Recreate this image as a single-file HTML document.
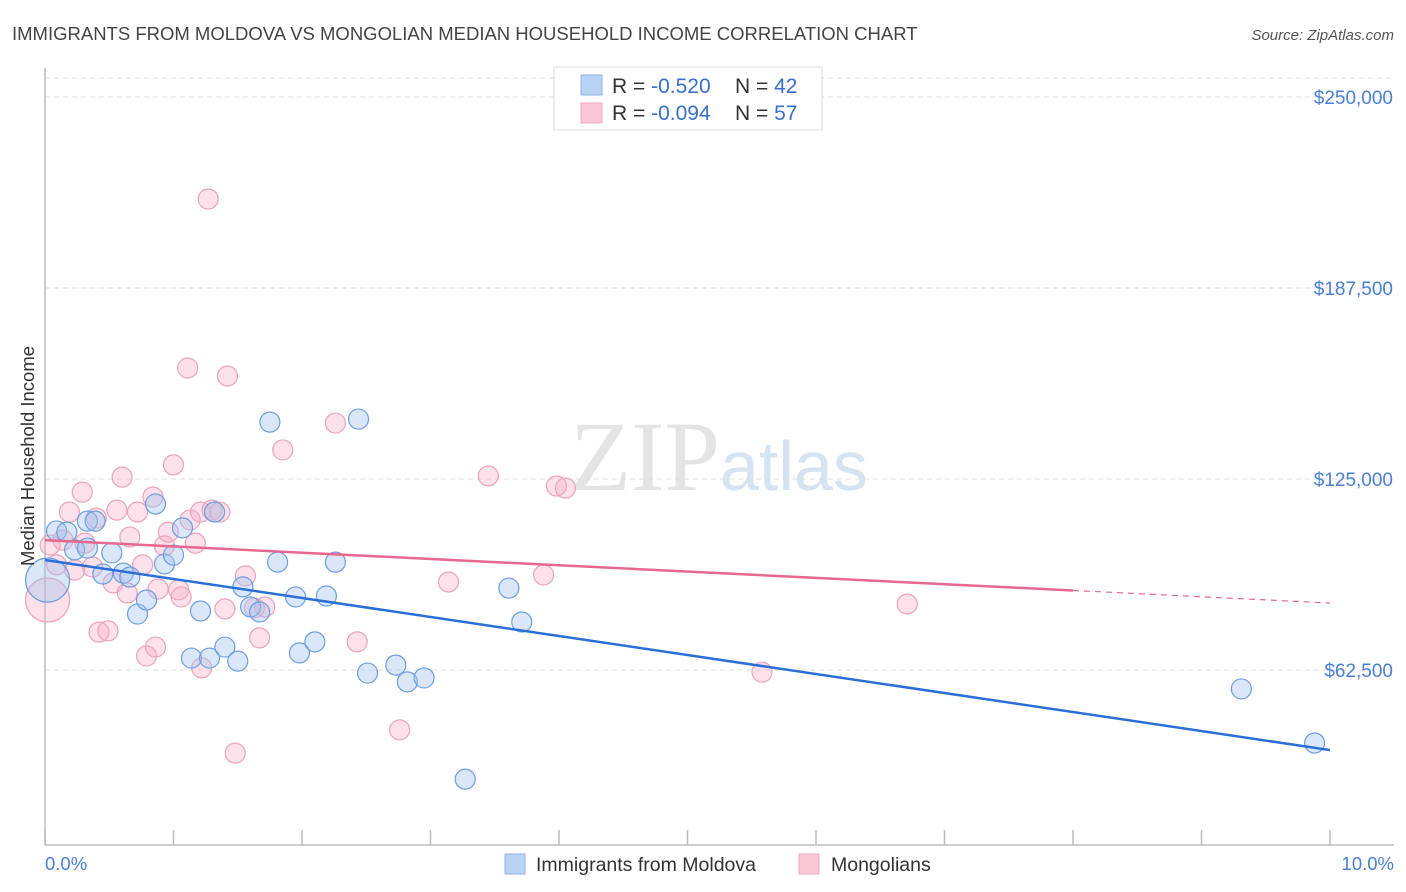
<!DOCTYPE html>
<html><head><meta charset="utf-8"><style>
body{margin:0;background:#fff;font-family:"Liberation Sans",sans-serif;}
svg{display:block}
</style></head><body>
<svg id="chart" width="1406" height="892" xmlns="http://www.w3.org/2000/svg">
<text x="12" y="40" font-size="18.5" fill="#444">IMMIGRANTS FROM MOLDOVA VS MONGOLIAN MEDIAN HOUSEHOLD INCOME CORRELATION CHART</text>
<text x="1394" y="40" font-size="15" fill="#555" font-style="italic" text-anchor="end">Source: ZipAtlas.com</text>
<text x="720" y="490" font-size="100" fill="#e4e4e4" font-family="Liberation Serif,serif" text-anchor="end">ZIP</text>
<text x="720" y="490" font-size="70" fill="#d6e3f3">atlas</text>
<g id="grid"></g>
<g id="axes"></g>
<g id="pinkpts"></g>
<g id="bluepts"></g>
<g id="lines"></g>
<text transform="translate(34,456) rotate(-90)" font-size="18.5" fill="#333" text-anchor="middle">Median Household Income</text>
<text x="45" y="870" font-size="18.5" fill="#4a7fd4">0.0%</text>
<text x="1394" y="870" font-size="18.5" fill="#4a7fd4" text-anchor="end">10.0%</text>
<g>
<rect x="554" y="67" width="268" height="63" fill="#fff" stroke="#ddd"/>
<rect x="581" y="75" width="21" height="20" fill="#b9d3f5" stroke="#8db4e8"/>
<rect x="581" y="103" width="21" height="20" fill="#fbc8d8" stroke="#f0a8c0"/>
<text x="612" y="93" font-size="21" fill="#333">R = <tspan fill="#3a6fd0">-0.520</tspan><tspan x="735">N = </tspan><tspan fill="#3a6fd0">42</tspan></text>
<text x="612" y="120" font-size="21" fill="#333">R = <tspan fill="#3a6fd0">-0.094</tspan><tspan x="735">N = </tspan><tspan fill="#3a6fd0">57</tspan></text>
</g>
<g>
<rect x="505" y="854" width="20" height="20" fill="#b9d3f5" stroke="#8db4e8"/>
<text x="536" y="871" font-size="19.5" fill="#333">Immigrants from Moldova</text>
<rect x="799" y="854" width="20" height="20" fill="#fbc8d8" stroke="#f0a8c0"/>
<text x="831" y="871" font-size="19.5" fill="#333">Mongolians</text>
</g>
</svg>
<script>
const yTicks=[62500,125000,187500,250000];
const yTickLabels=["$62,500","$125,000","$187,500","$250,000"];
const blueX=[0.09,0.17,0.33,0.23,0.33,0.52,0.39,0.61,0.66,0.45,0.72,0.79,0.86,0.93,1.00,1.07,1.14,1.21,1.28,1.32,1.40,1.50,1.54,1.60,1.67,1.75,1.81,1.95,1.98,2.10,2.19,2.26,2.44,2.51,2.73,2.82,2.95,3.27,3.61,3.71,9.31,9.88,0.02];
const blueY=[108.0,107.6,111.2,101.8,102.4,100.8,111.2,94.2,92.9,93.9,80.8,85.4,116.8,97.2,100.1,109.0,66.4,81.8,66.4,114.2,70.0,65.4,89.7,83.1,81.5,143.6,97.8,86.4,68.1,71.7,86.7,97.8,144.6,61.5,64.1,58.6,59.9,26.8,89.3,78.2,56.3,38.6,91.9];
const blueBig=[42];
const pinkX=[0.02,0.04,0.09,0.14,0.19,0.23,0.29,0.31,0.37,0.40,0.42,0.49,0.53,0.56,0.60,0.64,0.66,0.72,0.76,0.79,0.84,0.86,0.88,0.93,0.96,1.00,1.04,1.06,1.11,1.13,1.17,1.21,1.22,1.27,1.30,1.36,1.40,1.42,1.48,1.56,1.63,1.67,1.71,1.85,2.26,2.43,2.76,3.14,3.45,3.88,3.98,4.05,5.58,6.71];
const pinkY=[85.4,103.4,96.9,105.0,114.2,95.2,120.7,104.0,96.2,112.2,74.9,75.3,91.0,114.8,125.6,87.7,106.0,114.2,96.9,67.1,119.1,70.0,89.0,103.1,107.6,129.6,88.7,86.4,161.3,111.6,104.0,114.2,63.2,216.6,114.8,114.2,82.5,158.7,35.3,93.3,82.8,73.0,83.1,134.5,143.3,71.7,42.9,91.3,126.0,93.6,122.7,122.0,61.8,84.1];
const pinkBig=[0];
const blueTrend=[98.5,36.3];
const pinkTrend=[105.0,84.4];
const pinkSolidEnd=8;
const NS="http://www.w3.org/2000/svg";
const X=v=>45+v*128.5;
const Y=v=>861-v*1000/327.2;
function mk(tag,attrs,parent){const e=document.createElementNS(NS,tag);for(const k in attrs)e.setAttribute(k,attrs[k]);parent.appendChild(e);return e;}
const grid=document.getElementById('grid'),axes=document.getElementById('axes');
let gl=mk('line',{x1:45,x2:1394,y1:78,y2:78,stroke:'#ddd','stroke-dasharray':'5,4'},grid);


yTicks.forEach((t,i)=>{
 const l=mk('line',{x1:45,x2:1394,y1:Y(t/1000),y2:Y(t/1000),stroke:'#ddd','stroke-dasharray':'5,4'},grid);
 
 
 const tx=mk('text',{x:1393,y:Y(t/1000)+7,'font-size':19,fill:'#4a7fd4','text-anchor':'end'},grid);
 tx.textContent=yTickLabels[i];
 
 
});
let ax=mk('line',{x1:45,x2:45,y1:68,y2:845,stroke:'#bbb','stroke-width':1.5},axes);


let bx=mk('line',{x1:45,x2:1394,y1:845,y2:845,stroke:'#bbb','stroke-width':1.5},axes);


for(let i=0;i<=10;i++){
 const t=mk('line',{x1:X(i),x2:X(i),y1:830,y2:845,stroke:'#bbb','stroke-width':1.5},axes);
 
 
}
function pts(xs,ys,big,g,fill,stroke,name){
 xs.forEach((x,i)=>{
  const c=mk('circle',{cx:X(x),cy:Y(ys[i]),r:big.includes(i)?22:10,fill:fill,stroke:stroke,'stroke-width':1.2},g);
  
  
 });
}
pts(pinkX,pinkY,pinkBig,document.getElementById('pinkpts'),'rgba(246,168,195,0.35)','#eba3bc','mongolians-point');
pts(blueX,blueY,blueBig,document.getElementById('bluepts'),'rgba(160,196,240,0.4)','#6d9de0','moldova-point');
const lg=document.getElementById('lines');
let b=mk('line',{x1:X(0),y1:Y(blueTrend[0]),x2:X(10),y2:Y(blueTrend[1]),stroke:'#2a6fd8','stroke-width':2.5},lg);


const pAt=x=>pinkTrend[0]+(pinkTrend[1]-pinkTrend[0])*x/10;
let p=mk('line',{x1:X(0),y1:Y(pAt(0)),x2:X(pinkSolidEnd),y2:Y(pAt(pinkSolidEnd)),stroke:'#e8678f','stroke-width':2.5},lg);


let pd=mk('line',{x1:X(pinkSolidEnd),y1:Y(pAt(pinkSolidEnd)),x2:X(10),y2:Y(pAt(10)),stroke:'#e8678f','stroke-width':1.2,'stroke-dasharray':'6,5'},lg);


</script>
</body></html>
